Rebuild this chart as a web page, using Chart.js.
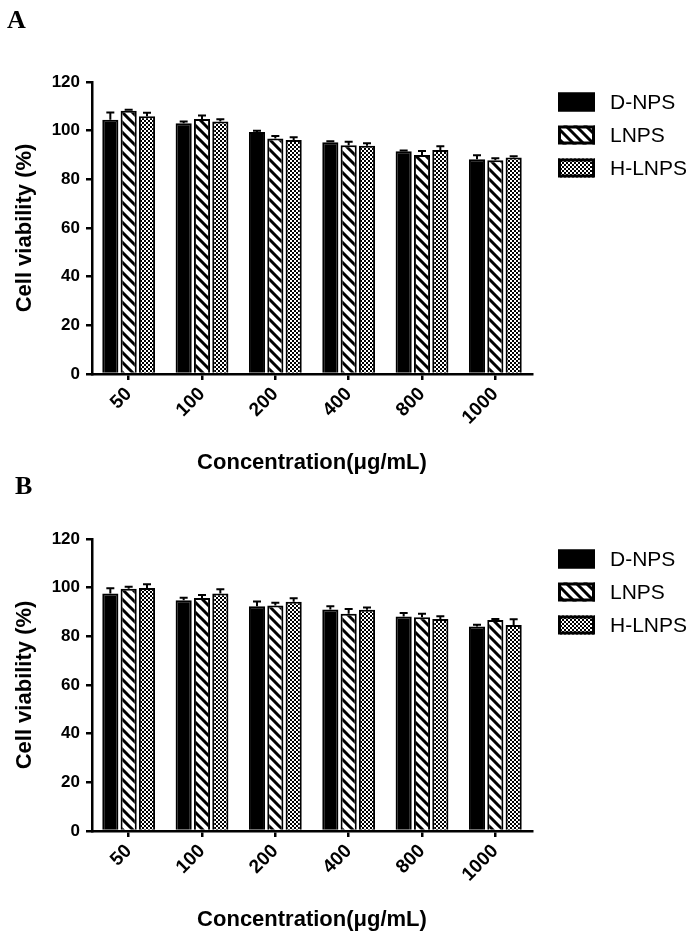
<!DOCTYPE html>
<html>
<head>
<meta charset="utf-8">
<script src="https://cdn.jsdelivr.net/npm/chart.js@4.4.0/dist/chart.umd.min.js"></script>
<style>
    html, body { margin: 0; padding: 0; background: #fff; }
    body { width: 700px; height: 937px; position: relative; overflow: hidden; }
    .panel { position: absolute; left: 0; width: 700px; height: 480px; }
    .tag {
        position: absolute;
        font-family: "Liberation Serif", "Times New Roman", serif;
        font-weight: bold;
        font-size: 26px;
        line-height: 1;
    }
</style>
</head>
<body>
<div class="panel" style="top:0px"><canvas id="chartA" width="700" height="480"></canvas></div>
<div class="panel" style="top:457px"><canvas id="chartB" width="700" height="480"></canvas></div>
<div class="tag" style="left:7px; top:7px;">A</div>
<div class="tag" style="left:15px; top:473px;">B</div>

<script>
// categories and axis
const concentrations = ['50', '100', '200', '400', '800', '1000'];
const seriesNames = ['D-NPS', 'LNPS', 'H-LNPS'];
const yTicks = [0, 20, 40, 60, 80, 100, 120];

// Panel A - means and upper error (SD)
const aDnps = [104.5, 103.0, 99.5, 95.2, 91.5, 88.3];
const aDnpsErr = [3.0, 0.8, 0.5, 0.4, 0.4, 1.6];
const aLnps = [108.2, 104.8, 96.8, 94.0, 90.0, 87.8];
const aLnpsErr = [0.4, 1.4, 1.0, 1.4, 1.6, 0.9];
const aHlnps = [105.9, 103.8, 96.2, 93.8, 92.1, 89.0];
const aHlnpsErr = [1.5, 0.9, 1.1, 1.0, 1.5, 0.5];

// Panel B
const bDnps = [97.6, 94.8, 92.4, 91.0, 88.2, 84.0];
const bDnpsErr = [2.2, 1.1, 1.9, 1.4, 1.4, 0.8];
const bLnps = [99.6, 95.8, 92.7, 89.3, 87.8, 86.7];
const bLnpsErr = [0.8, 1.2, 1.1, 1.9, 1.5, 0.4];
const bHlnps = [99.9, 97.6, 94.2, 90.9, 87.1, 84.7];
const bHlnpsErr = [1.5, 1.8, 1.4, 1.0, 1.2, 2.3];

const FONT = '"Liberation Sans", Arial, Helvetica, sans-serif';

document.addEventListener('DOMContentLoaded', () => {
    Chart.defaults.font.family = FONT;
    Chart.defaults.color = '#000';

    makePanel('chartA', [aDnps, aLnps, aHlnps], [aDnpsErr, aLnpsErr, aHlnpsErr]);
    makePanel('chartB', [bDnps, bLnps, bHlnps], [bDnpsErr, bLnpsErr, bHlnpsErr]);
});

function stripePattern(ctx) {
    const c = document.createElement('canvas');
    c.width = 10;
    c.height = 10;
    const g = c.getContext('2d');
    g.fillStyle = '#fff';
    g.fillRect(0, 0, 10, 10);
    g.strokeStyle = '#000';
    g.lineWidth = 3;
    g.beginPath();
    g.moveTo(-2, -2); g.lineTo(12, 12);
    g.moveTo(-2, 8); g.lineTo(2, 12);
    g.moveTo(8, -2); g.lineTo(12, 2);
    g.stroke();
    return ctx.createPattern(c, 'repeat');
}

function checkerPattern(ctx) {
    const c = document.createElement('canvas');
    c.width = 4;
    c.height = 4;
    const g = c.getContext('2d');
    g.fillStyle = '#fff';
    g.fillRect(0, 0, 4, 4);
    g.fillStyle = '#000';
    g.fillRect(0, 0, 2, 2);
    g.fillRect(2, 2, 2, 2);
    return ctx.createPattern(c, 'repeat');
}

// upper error bars with a cap, placed through the y scale
const errorBarPlugin = {
    id: 'errorBars',
    afterDatasetsDraw(chart) {
        const ctx = chart.ctx;
        const yScale = chart.scales.y;
        ctx.save();
        ctx.strokeStyle = '#000';
        ctx.lineWidth = 2;
        chart.data.datasets.forEach((ds, di) => {
            const meta = chart.getDatasetMeta(di);
            meta.data.forEach((bar, i) => {
                const top = yScale.getPixelForValue(ds.data[i] + ds.errors[i]);
                ctx.beginPath();
                ctx.moveTo(bar.x, bar.y);
                ctx.lineTo(bar.x, top);
                ctx.moveTo(bar.x - 4, top);
                ctx.lineTo(bar.x + 4, top);
                ctx.stroke();
            });
        });
        ctx.restore();
    }
};

// legend on the right, drawn from the datasets
const sideLegendPlugin = {
    id: 'sideLegend',
    afterDraw(chart, args, opts) {
        const ctx = chart.ctx;
        ctx.save();
        ctx.font = '21px ' + FONT;
        ctx.textBaseline = 'middle';
        chart.data.datasets.forEach((ds, i) => {
            const cy = opts.top + i * opts.spacing;
            const y0 = cy - opts.boxHeight / 2;
            ctx.fillStyle = ds.backgroundColor;
            ctx.fillRect(opts.left, y0, opts.boxWidth, opts.boxHeight);
            ctx.lineWidth = 3;
            ctx.strokeStyle = '#000';
            ctx.strokeRect(opts.left + 1.5, y0 + 1.5, opts.boxWidth - 3, opts.boxHeight - 3);
            ctx.fillStyle = '#000';
            ctx.fillText(ds.label, opts.textLeft, cy + 1);
        });
        ctx.restore();
    }
};

function makePanel(canvasId, values, errors) {
    const ctx = document.getElementById(canvasId).getContext('2d');
    const fills = ['#000', stripePattern(ctx), checkerPattern(ctx)];

    const datasets = seriesNames.map((name, i) => ({
        label: name,
        data: values[i],
        errors: errors[i],
        backgroundColor: fills[i],
        borderColor: '#000',
        borderWidth: 2,
        categoryPercentage: 0.75,
        barPercentage: 0.88
    }));

    return new Chart(ctx, {
        type: 'bar',
        data: { labels: concentrations, datasets: datasets },
        plugins: [errorBarPlugin, sideLegendPlugin],
        options: {
            responsive: false,
            animation: false,
            layout: { padding: { top: 82, right: 168, bottom: 0, left: 0 } },
            plugins: {
                legend: { display: false },
                tooltip: { enabled: false },
                sideLegend: { left: 558, top: 102, spacing: 33, boxWidth: 37, boxHeight: 19, textLeft: 610 }
            },
            scales: {
                x: {
                    grid: { offset: false, drawOnChartArea: false, color: '#000', lineWidth: 2.5, tickLength: 6 },
                    border: { color: '#000', width: 2.5 },
                    ticks: { color: '#000', font: { size: 19, weight: 'bold' }, minRotation: 45, maxRotation: 45, padding: 3 },
                    title: {
                        display: true,
                        text: 'Concentration(μg/mL)',
                        color: '#000',
                        font: { size: 22, weight: 'bold' },
                        padding: { top: 0, bottom: 4 }
                    },
                    afterFit(scale) { scale.height = 106; }
                },
                y: {
                    min: yTicks[0],
                    max: yTicks[yTicks.length - 1],
                    afterBuildTicks(scale) { scale.ticks = yTicks.map(v => ({ value: v })); },
                    grid: { drawOnChartArea: false, color: '#000', lineWidth: 2.5, tickLength: 6 },
                    border: { color: '#000', width: 2.5 },
                    ticks: { color: '#000', font: { size: 17, weight: 'bold' }, padding: 6 },
                    title: {
                        display: true,
                        text: 'Cell viability (%)',
                        color: '#000',
                        font: { size: 22, weight: 'bold' },
                        padding: { top: 12, bottom: 0 }
                    },
                    afterFit(scale) { scale.width = 92; }
                }
            }
        }
    });
}
</script>
</body>
</html>
